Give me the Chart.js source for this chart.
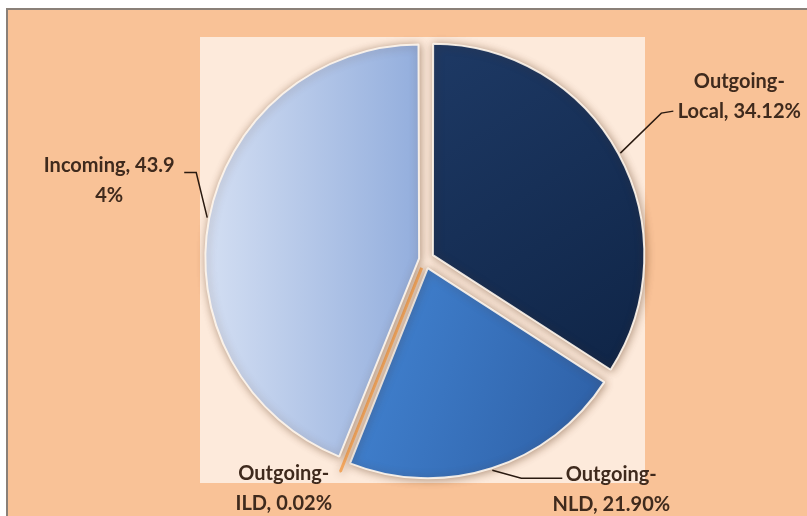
<!DOCTYPE html>
<html>
<head>
<meta charset="utf-8">
<script src="https://cdn.jsdelivr.net/npm/chart.js@4.4.1/dist/chart.umd.min.js"></script>
<style>
  html, body { margin: 0; padding: 0; background: #fff; }
  #wrap { width: 807px; height: 516px; }
</style>
</head>
<body>
<div id="wrap"><canvas id="myChart" width="807" height="516"></canvas></div>
<script>
const categories = ['Outgoing-Local', 'Outgoing-NLD', 'Outgoing-ILD', 'Incoming'];
const shares = [34.12, 21.90, 0.02, 43.94];

// label wrapping (char index of the line break) and placement relative to the leader point
const wrapAt = [9, 9, 9, 14];
const labelPlace = [
  { elbow: [41, -40], end: [53, -42], text: [119, -72] },
  { elbow: [29, 8], end: [70, 8], text: [119, 4] },
  { elbow: [0, 0], end: [0, 0], text: [-56, 0] },
  { elbow: [-11, -45], end: [-23, -45], text: [-98, -52] }
];

// gradient colours per slice and gradient direction in radius units from the centre
const sliceColors = [
  ['#1E3A66', '#0E2344'],
  ['#4385D4', '#2E60A6'],
  ['#F2A65E'],
  ['#D8E2F4', '#93AEDD']
];
const gradDir = [
  [0, -1, 1, 0.6],
  [-0.4, 0.2, 0.8, 0.6],
  null,
  [-1, 0, 0, 0]
];

function sliceFill(context) {
  const chart = context.chart;
  const area = chart.chartArea;
  const i = context.dataIndex;
  const cols = sliceColors[i];
  if (!area || cols.length === 1) return cols[0];
  const cx = (area.left + area.right) / 2;
  const cy = (area.top + area.bottom) / 2;
  const r = Math.min(area.width, area.height) / 2;
  const d = gradDir[i];
  const g = chart.ctx.createLinearGradient(cx + d[0] * r, cy + d[1] * r, cx + d[2] * r, cy + d[3] * r);
  g.addColorStop(0, cols[0]);
  g.addColorStop(1, cols[1]);
  return g;
}

const backdrop = {
  id: 'backdrop',
  beforeDraw(chart) {
    const c = chart.ctx;
    const w = chart.width, h = chart.height;
    c.save();
    c.fillStyle = '#ffffff';
    c.fillRect(0, 0, w, h);
    c.fillStyle = '#F9C297';
    c.fillRect(7, 8, w - 7, h - 8);
    c.strokeStyle = '#8A8078';
    c.lineWidth = 2;
    c.beginPath();
    c.moveTo(7, h);
    c.lineTo(7, 9);
    c.lineTo(w, 9);
    c.stroke();
    c.fillStyle = '#FDEADB';
    c.fillRect(200, 37, 445, 446);
    c.restore();
  },
  beforeDatasetsDraw(chart) {
    const c = chart.ctx;
    c.save();
    c.shadowColor = 'rgba(90, 50, 20, 0.45)';
    c.shadowBlur = 8;
    c.shadowOffsetX = 1;
    c.shadowOffsetY = 1;
  },
  afterDatasetsDraw(chart) {
    chart.ctx.restore();
  }
};

const sliceLabels = {
  id: 'sliceLabels',
  afterDraw(chart) {
    const meta = chart.getDatasetMeta(0);
    const c = chart.ctx;
    c.save();
    c.font = 'bold 20px Lato';
    c.fillStyle = '#3F2A1D';
    c.strokeStyle = '#2A1A10';
    c.lineWidth = 1.5;
    c.textAlign = 'center';
    c.textBaseline = 'middle';
    meta.data.forEach((arc, i) => {
      const p = arc.getProps(['x', 'y', 'startAngle', 'endAngle', 'outerRadius', 'circumference']);
      const mid = (p.startAngle + p.endAngle) / 2;
      const shift = (arc.options.offset || 0) / 4;
      const fix = 1 - Math.sin(Math.min(Math.PI, p.circumference));
      const r = p.outerRadius + shift + shift * fix + 2;
      const ax = p.x + Math.cos(mid) * r;
      const ay = p.y + Math.sin(mid) * r;
      const L = labelPlace[i];
      c.beginPath();
      c.moveTo(ax, ay);
      c.lineTo(ax + L.elbow[0], ay + L.elbow[1]);
      c.lineTo(ax + L.end[0], ay + L.end[1]);
      c.stroke();
      const text = categories[i] + ', ' + shares[i].toFixed(2) + '%';
      const lines = [text.slice(0, wrapAt[i]), text.slice(wrapAt[i]).trim()];
      lines.forEach((ln, k) => {
        c.fillText(ln, ax + L.text[0], ay + L.text[1] + k * 30);
      });
    });
    c.restore();
  }
};

const ctx = document.getElementById('myChart');

const myChart = new Chart(ctx, {
  type: 'pie',
  data: {
    labels: categories,
    datasets: [{
      data: shares,
      backgroundColor: sliceFill,
      borderColor: ['rgba(255,246,236,0.9)', 'rgba(255,246,236,0.9)', '#F2A65E', 'rgba(255,246,236,0.9)'],
      borderWidth: [2, 2, 3, 2],
      offset: [36, 36, 36, 24]
    }]
  },
  options: {
    responsive: false,
    devicePixelRatio: 1,
    animation: false,
    layout: {
      padding: { left: 195, right: 152, top: 30, bottom: 27 }
    },
    plugins: {
      legend: false,
      tooltip: { enabled: false }
    }
  },
  plugins: [backdrop, sliceLabels]
});
</script>
</body>
</html>
